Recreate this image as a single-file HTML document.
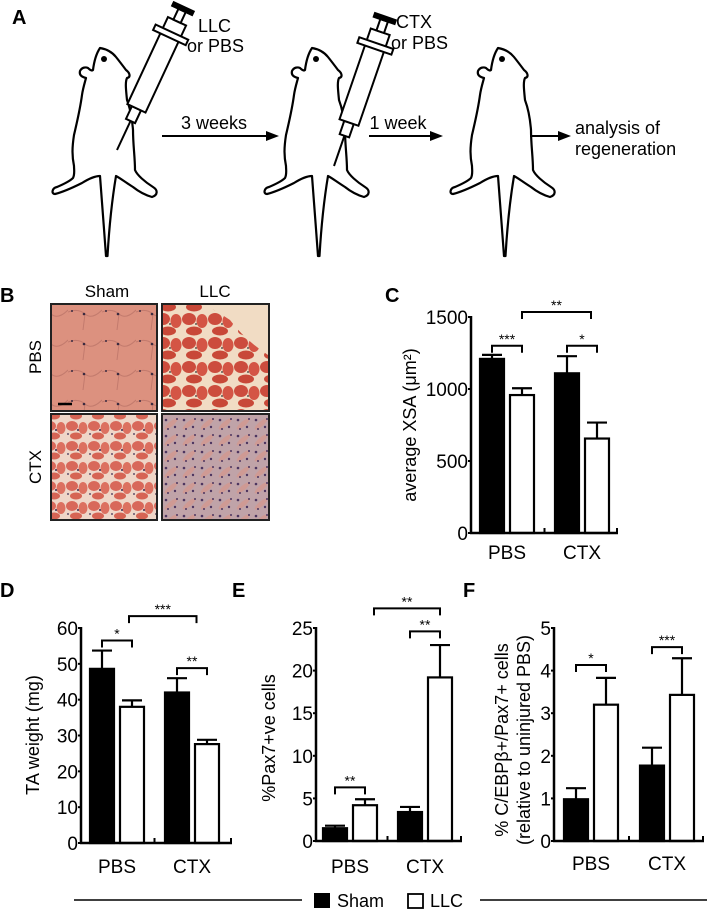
<!DOCTYPE html>
<html><head><meta charset="utf-8">
<style>
html,body{margin:0;padding:0;background:#fff;}
svg{display:block;font-family:"Liberation Sans",Arial,sans-serif;}
</style></head>
<body>
<svg id="fig" width="707" height="911" viewBox="0 0 707 911" xmlns="http://www.w3.org/2000/svg">
<defs>
  <pattern id="pShamPBS" width="34" height="30" patternUnits="userSpaceOnUse">
    <rect width="34" height="30" fill="#dc917f"/>
    <path d="M0 12 Q10 8 17 14 T34 10 M17 14 L15 30" stroke="#c27a6d" stroke-width="1" fill="none"/>
    <circle cx="16" cy="14" r="1.3" fill="#3a2a40"/><circle cx="4" cy="11" r="1" fill="#3a2a40"/>
  </pattern>
  <pattern id="pLLCPBS" width="26" height="24" patternUnits="userSpaceOnUse">
    <rect width="26" height="24" fill="#f1dcc4"/>
    <ellipse cx="7" cy="7" rx="7" ry="6" fill="#cc4c3d"/>
    <ellipse cx="20" cy="9" rx="5.5" ry="7" fill="#d45545"/>
    <ellipse cx="12" cy="19" rx="8" ry="4.5" fill="#c84838"/>
    <circle cx="14" cy="12" r="0.9" fill="#333"/>
  </pattern>
  <pattern id="pShamCTX" width="22" height="20" patternUnits="userSpaceOnUse">
    <rect width="22" height="20" fill="#efd6c8"/>
    <ellipse cx="6" cy="6" rx="6" ry="5" fill="#d8685a"/>
    <ellipse cx="17" cy="8" rx="4.5" ry="6" fill="#dc7060"/>
    <ellipse cx="10" cy="16" rx="6" ry="3.5" fill="#d66454"/>
    <circle cx="12" cy="10" r="1" fill="#3a2a50"/><circle cx="2" cy="14" r="0.9" fill="#3a2a50"/>
  </pattern>
  <pattern id="pLLCCTX" width="18" height="16" patternUnits="userSpaceOnUse">
    <rect width="18" height="16" fill="#c0a3a8"/>
    <ellipse cx="9" cy="8" rx="8" ry="2.5" fill="#cf9a94" transform="rotate(-40 9 8)"/>
    <circle cx="4" cy="4" r="1.3" fill="#4d3560"/><circle cx="13" cy="11" r="1.2" fill="#4d3560"/>
    <circle cx="15" cy="3" r="1" fill="#4d3560"/><circle cx="6" cy="13" r="1" fill="#4d3560"/>
  </pattern>
  <g id="mouse">
    <path d="M100,48 C106,49 112,52 116,57 C120,62 123,66 126,70 C130,73 131,77 127,78 C125,82 126,90 127,100 C130,108 132,117 133,130 C133,145 135,157 135,170 C137,175 145,182 153,187 C158,190 158,195 152,197 C145,195 138,191 133,187 C125,182 120,178 116,176 C112,200 109,230 107.5,256 L106,256 C104,230 102,200 100,176 C96,176 90,178 82,183 C72,188 63,192 55,194 C51,194 52,188 57,187 C64,184 70,181 73,178 C75,174 74,170 74,166 C72,156 72,148 74,135 C77,122 80,110 82,95 C83,88 85,82 86,78 C82,77 79,75 80,71 C82,67 86,67 88,68 C90,70 92,71 93,70 C94,62 96,54 100,48 Z" fill="#fff" stroke="#000" stroke-width="2.2" stroke-linejoin="round"/>
    <circle cx="104" cy="59" r="3" fill="#000"/>
  </g>
  <g id="syringe" fill="#fff" stroke="#000" stroke-width="2">
    <line x1="0" y1="0" x2="0" y2="-32"/>
    <rect x="-5" y="-46" width="10" height="14"/>
    <rect x="-10" y="-142" width="20" height="96"/>
    <rect x="-18" y="-130" width="36" height="6"/>
    <rect x="-4" y="-154" width="8" height="12"/>
    <rect x="-11" y="-158" width="22" height="4" fill="#000"/>
  </g>
</defs>

<g>
  <text x="12" y="24" font-size="20" font-weight="bold">A</text>
  <use href="#mouse"/>
  <use href="#mouse" transform="translate(212,0)"/>
  <use href="#mouse" transform="translate(398,0)"/>
  <use href="#syringe" transform="translate(117,150) rotate(25)"/>
  <use href="#syringe" transform="translate(334,166) rotate(19)"/>
  <text x="198" y="32" font-size="18">LLC</text>
  <text x="187" y="52" font-size="18">or PBS</text>
  <text x="396" y="28" font-size="18">CTX</text>
  <text x="391" y="49" font-size="18">or PBS</text>
  <g>
    <line x1="162" y1="136" x2="268" y2="136" stroke="#000" stroke-width="2"/>
    <polygon points="266,131 279,136 266,141" fill="#000"/>
    <text x="214" y="129" font-size="18" text-anchor="middle">3 weeks</text>
  </g>
  <g>
    <line x1="369" y1="136" x2="432" y2="136" stroke="#000" stroke-width="2"/>
    <polygon points="430,131 443,136 430,141" fill="#000"/>
    <text x="398" y="129" font-size="18" text-anchor="middle">1 week</text>
  </g>
  <g>
    <line x1="530" y1="136" x2="560" y2="136" stroke="#000" stroke-width="2"/>
    <polygon points="558,131 571,136 558,141" fill="#000"/>
    <text x="575" y="134" font-size="18">analysis of</text>
    <text x="575" y="155" font-size="18">regeneration</text>
  </g>
</g>

<g>
  <text x="0" y="302" font-size="20" font-weight="bold">B</text>
  <text x="107" y="297" font-size="17" text-anchor="middle">Sham</text>
  <text x="215" y="297" font-size="17" text-anchor="middle">LLC</text>
  <text transform="translate(41,357) rotate(-90)" font-size="17" text-anchor="middle">PBS</text>
  <text transform="translate(41,467) rotate(-90)" font-size="17" text-anchor="middle">CTX</text>
  <rect x="51" y="304" width="106" height="107" fill="url(#pShamPBS)" stroke="#222" stroke-width="2"/>
  <rect x="162" y="304" width="107" height="107" fill="url(#pLLCPBS)" stroke="#222" stroke-width="2"/>
  <path d="M205 305 L268 305 L268 355 Q245 340 230 320 Q215 310 205 305Z" fill="#f1dcc4"/>
  <rect x="51" y="414" width="106" height="106" fill="url(#pShamCTX)" stroke="#222" stroke-width="2"/>
  <rect x="162" y="414" width="107" height="106" fill="url(#pLLCCTX)" stroke="#222" stroke-width="2"/>
  <line x1="58" y1="404" x2="72" y2="404" stroke="#000" stroke-width="2.5"/>
</g>

<g id="charts"></g>

<g>
  <line x1="74" y1="900" x2="302" y2="900" stroke="#000" stroke-width="1.5"/>
  <line x1="480" y1="900" x2="707" y2="900" stroke="#000" stroke-width="1.5"/>
  <rect x="314" y="893" width="16" height="15" fill="#000"/>
  <text x="337" y="907" font-size="18">Sham</text>
  <rect x="408" y="894" width="15" height="14" fill="#fff" stroke="#000" stroke-width="1.8"/>
  <text x="430" y="907" font-size="18">LLC</text>
</g>
</svg>

<script>
const categories = ["PBS", "CTX"];
// Panel C: average XSA
const cSham = [1209, 1109];
const cShamErr = [28, 119];
const cLLC = [958, 656];
const cLLCErr = [47, 111];
const cTicks = [0, 500, 1000, 1500];
// Panel D: TA weight
const dSham = [48.6, 42.0];
const dShamErr = [5.1, 4.0];
const dLLC = [38.0, 27.6];
const dLLCErr = [1.8, 1.2];
const dTicks = [0, 10, 20, 30, 40, 50, 60];
// Panel E: %Pax7+ve
const eSham = [1.5, 3.4];
const eShamErr = [0.3, 0.6];
const eLLC = [4.2, 19.2];
const eLLCErr = [0.7, 3.8];
const eTicks = [0, 5, 10, 15, 20, 25];
// Panel F: C/EBPb+/Pax7+
const fSham = [0.98, 1.77];
const fShamErr = [0.26, 0.42];
const fLLC = [3.2, 3.43];
const fLLCErr = [0.63, 0.86];
const fTicks = [0, 1, 2, 3, 4, 5];
// significance brackets: [fromBarIndex, toBarIndex, level(data units), label]
const cBrackets = [[0, 1, 1300, "***"], [1, 2.8, 1535, "**"], [2, 3, 1300, "*"]];
const dBrackets = [[0, 1, 56.5, "*"], [0.9, 2.65, 63.3, "***"], [2, 3, 48.8, "**"]];
const eBrackets = [[0, 1, 6.3, "**"], [1.2, 3, 27.3, "**"], [2, 3, 24.6, "**"]];
const fBrackets = [[0, 1, 4.13, "*"], [2, 3, 4.55, "***"]];

const NS = "http://www.w3.org/2000/svg";
const root = document.getElementById("charts");
function mk(tag, attrs, parent) {
  const el = document.createElementNS(NS, tag);
  for (const k in attrs) el.setAttribute(k, attrs[k]);
  (parent || root).appendChild(el);
  return el;
}

function chart(id, label, lx, ly, ax, base, topPx, xEnd, off, gsp, yMax, ticks, sham, shamErr, llc, llcErr, brackets, titles, titleX, titleY, catY) {
  const g = mk("g", {});
  
  
  const yS = v => base - v / yMax * (base - topPx);
  const barW = 26;
  const barX = (grp, s) => ax + off + grp * gsp + s * 30;
  const center = i => barX(Math.floor(i / 2), i % 2) + barW / 2;
  const xOf = f => { const a = Math.floor(f), b = Math.ceil(f); return a === b ? center(a) : center(a) + (center(b) - center(a)) * (f - a); };

  const pl = mk("text", {x: lx, y: ly, "font-size": 20, "font-weight": "bold"}, g);
  pl.textContent = label;
  
  

  titles.forEach((t, k) => {
    const tt = mk("text", {transform: "translate(" + (titleX + k * 22) + "," + titleY + ") rotate(-90)", "font-size": 18, "text-anchor": "middle"}, g);
    tt.textContent = t;
    
    
  });

  ticks.forEach(t => {
    const y = yS(t);
    const tl = mk("text", {x: ax - 3, y: y + 7, "font-size": 19, "text-anchor": "end"}, g);
    tl.textContent = t;
    
    
    const tk = mk("line", {x1: ax - 3, x2: ax, y1: y, y2: y, stroke: "#000", "stroke-width": 2}, g);
    
    
  });

  categories.forEach((c, gi) => {
    [[sham, shamErr, "#000", "sham"], [llc, llcErr, "#fff", "llc"]].forEach((ser, s) => {
      const v = ser[0][gi], e = ser[1][gi];
      const x = barX(gi, s);
      const cx = x + barW / 2;
      const el = mk("line", {x1: cx, x2: cx, y1: yS(v), y2: yS(v + e), stroke: "#000", "stroke-width": 2.2}, g);
      
      
      const cap = mk("line", {x1: cx - 10, x2: cx + 10, y1: yS(v + e), y2: yS(v + e), stroke: "#000", "stroke-width": 2.2}, g);
      
      
      const r = mk("rect", {x: x + 1, y: yS(v), width: barW - 2, height: base - yS(v), fill: ser[2], stroke: "#000", "stroke-width": 2.2}, g);
      
      
    });
    const cl = mk("text", {x: (barX(gi, 0) + barX(gi, 1) + barW) / 2, y: catY, "font-size": 19, "text-anchor": "middle"}, g);
    cl.textContent = c;
    
    
  });

  const ya = mk("line", {x1: ax, x2: ax, y1: topPx - 1, y2: base + 1, stroke: "#000", "stroke-width": 2.5}, g);
  
  
  const xa = mk("line", {x1: ax - 1, x2: xEnd, y1: base, y2: base, stroke: "#000", "stroke-width": 2.5}, g);
  
  
  [ (barX(0, 1) + barW + barX(1, 0)) / 2, xEnd - 1 ].forEach(tx => {
    const t = mk("line", {x1: tx, x2: tx, y1: base, y2: base - 5, stroke: "#000", "stroke-width": 2}, g);
    
    
  });

  brackets.forEach(b => {
    const x1 = xOf(b[0]), x2 = xOf(b[1]), y = yS(b[2]);
    const p = mk("path", {d: "M" + x1 + " " + (y + 7) + " V" + y + " H" + x2 + " V" + (y + 7), fill: "none", stroke: "#000", "stroke-width": 2}, g);
    
    
    const st = mk("text", {x: (x1 + x2) / 2, y: y - 2, "font-size": 14, "text-anchor": "middle"}, g);
    st.textContent = b[3];
    
    
  });
}

chart("c", "C", 385, 302, 471, 533, 317, 618, 8, 75, 1500, cTicks, cSham, cShamErr, cLLC, cLLCErr, cBrackets, ["average XSA (\u03bcm\u00b2)"], 416, 425, 559);
chart("d", "D", 0, 597, 81, 843, 628, 232, 8, 75, 60, dTicks, dSham, dShamErr, dLLC, dLLCErr, dBrackets, ["TA weight (mg)"], 39, 735, 873);
chart("e", "E", 232, 597, 316, 841, 628, 462, 6, 75, 25, eTicks, eSham, eShamErr, eLLC, eLLCErr, eBrackets, ["%Pax7+ve cells"], 275, 738, 873);
chart("f", "F", 463, 597, 554, 841, 628, 704, 9, 76, 5, fTicks, fSham, fShamErr, fLLC, fLLCErr, fBrackets, ["% C/EBP\u03b2+/Pax7+ cells", "(relative to uninjured PBS)"], 508, 740, 870);
</script>
</body></html>
